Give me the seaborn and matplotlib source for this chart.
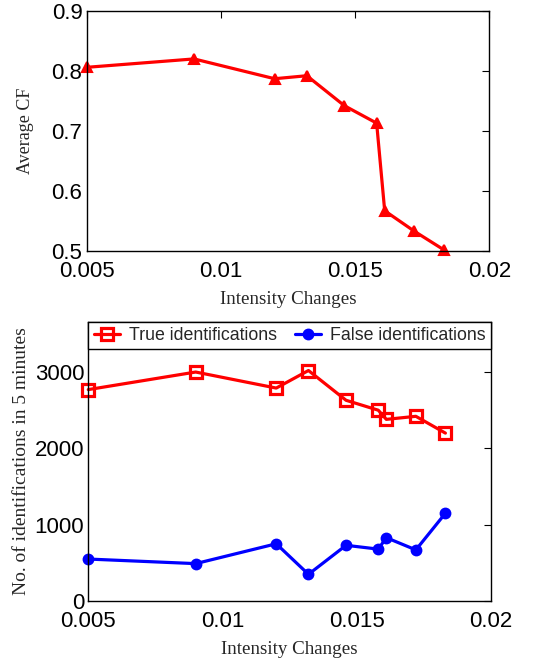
import matplotlib
matplotlib.use("Agg")
import matplotlib.pyplot as plt
import seaborn as sns
import pandas as pd

intensity = [0.005, 0.009, 0.012, 0.0132, 0.0146, 0.0158, 0.0161, 0.0172, 0.0183]
avg_cf = [0.806, 0.820, 0.787, 0.792, 0.742, 0.713, 0.567, 0.533, 0.502]
true_ids = [2770, 3000, 2790, 3020, 2630, 2500, 2380, 2420, 2200]
false_ids = [550, 490, 750, 350, 730, 680, 830, 670, 1150]

x_ticks = [0.005, 0.01, 0.015, 0.02]
x_tick_labels = ["0.005", "0.01", "0.015", "0.02"]
cf_ticks = [0.5, 0.6, 0.7, 0.8, 0.9]
id_ticks = [0, 1000, 2000, 3000]

sns.set_style("white")
plt.rcParams["font.family"] = ["Liberation Sans", "DejaVu Sans"]

fig = plt.figure(figsize=(5.45, 6.65), dpi=100)
ax1 = fig.add_axes([0.159, 0.6226, 0.739, 0.361])
ax2 = fig.add_axes([0.162, 0.0962, 0.739, 0.4201])

df = pd.DataFrame({"x": intensity, "cf": avg_cf, "t": true_ids, "f": false_ids})

sns.lineplot(data=df, x="x", y="cf", ax=ax1, color="#ff0000", linewidth=2.3,
             marker="^", markersize=7.5, markeredgecolor="#ff0000",
             markerfacecolor="#ff0000", markeredgewidth=1.5, clip_on=False)

sns.lineplot(data=df, x="x", y="t", ax=ax2, color="#ff0000", linewidth=2.3,
             marker="s", markersize=8.5, markeredgecolor="#ff0000",
             markerfacecolor="none", markeredgewidth=2.3,
             label="True identifications", clip_on=False)
sns.lineplot(data=df, x="x", y="f", ax=ax2, color="#0000ff", linewidth=2.3,
             marker="o", markersize=7, markeredgecolor="#0000ff",
             markerfacecolor="#0000ff", markeredgewidth=1.5,
             label="False identifications", clip_on=False)

serif_family = ["Liberation Serif", "DejaVu Serif"]

for ax in (ax1, ax2):
    ax.set_xlim(0.005, 0.02)
    ax.set_xticks(x_ticks)
    ax.set_xticklabels(x_tick_labels)
    ax.tick_params(direction="in", length=5, width=0.8, labelsize=16,
                   top=True, right=True, colors="black", pad=3)
    ax.tick_params(axis="x", pad=7)
    for s in ax.spines.values():
        s.set_color("black")
        s.set_linewidth(1.0)
    ax.set_xlabel("Intensity Changes", family=serif_family, fontsize=13.7, labelpad=7)

ax1.set_ylim(0.5, 0.9)
ax1.set_yticks(cf_ticks)
ax1.set_yticklabels([f"{v:.1f}" for v in cf_ticks])
ax1.set_ylabel("Average CF", family=serif_family, fontsize=13, labelpad=13)

ax2.set_ylim(0, 3660)
ax2.set_yticks(id_ticks)
ax2.set_yticklabels([str(v) for v in id_ticks])
ax2.set_ylabel("No. of identifications in 5 minutes", family=serif_family,
               fontsize=14, labelpad=3)

leg = ax2.legend(loc="upper left", bbox_to_anchor=(0, 1, 1, 0), mode="expand",
                 ncol=2, borderaxespad=0, frameon=True, fancybox=False,
                 edgecolor="black", fontsize=12.8, handlelength=1.5,
                 handletextpad=0.5, columnspacing=1.0, borderpad=0.3)
leg.get_frame().set_linewidth(1.0)
leg.get_frame().set_alpha(1)

fig.savefig("out.png", dpi=100)
